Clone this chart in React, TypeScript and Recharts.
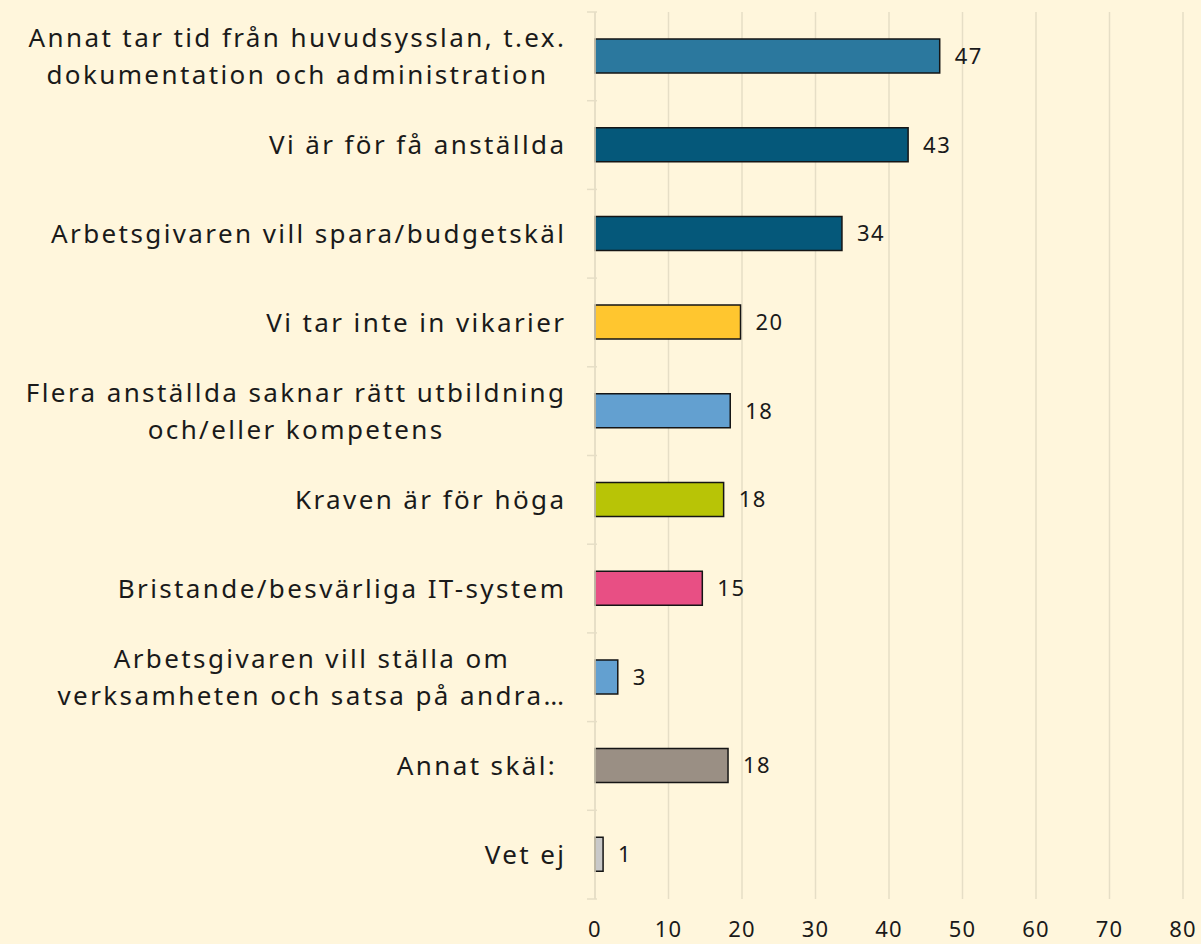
import { Bar, BarChart, CartesianGrid, Cell, LabelList, XAxis, YAxis } from "recharts";

const categories = [
  "Annat tar tid från huvudsysslan, t.ex.\ndokumentation och administration",
  "Vi är för få anställda",
  "Arbetsgivaren vill spara/budgetskäl",
  "Vi tar inte in vikarier",
  "Flera anställda saknar rätt utbildning\noch/eller kompetens",
  "Kraven är för höga",
  "Bristande/besvärliga IT-system",
  "Arbetsgivaren vill ställa om\nverksamheten och satsa på andra…",
  "Annat skäl: ",
  "Vet ej",
];

const values = [46.9, 42.6, 33.6, 19.8, 18.4, 17.5, 14.6, 3.1, 18.1, 1.1];

const colors = [
  "#2B789E",
  "#05587A",
  "#05587A",
  "#FFC62F",
  "#63A0D0",
  "#B8C406",
  "#E84F84",
  "#63A0D0",
  "#9A8F84",
  "#C9C9C9",
];

const xTicks = [0, 10, 20, 30, 40, 50, 60, 70, 80];

const data = categories.map((name, i) => ({ name, value: values[i] }));

const FONT = "'Noto Sans', sans-serif";
const TEXT = "#1A1A1A";
const GRID = "#E6DEC6";
const BG = "#FFF6DC";

const TOP = 12;
const BOTTOM = 45;
const HEIGHT = 944;
const BAND = (HEIGHT - TOP - BOTTOM) / categories.length;

const LABEL_SIZE = 26;
const LABEL_LS = 2.4;

let canvasCtx: CanvasRenderingContext2D | null = null;
function measure(text: string) {
  if (!canvasCtx) canvasCtx = document.createElement("canvas").getContext("2d");
  const base = canvasCtx
    ? ((canvasCtx.font = `${LABEL_SIZE}px 'Noto Sans'`), canvasCtx.measureText(text).width)
    : text.length * LABEL_SIZE * 0.55;
  return base + text.length * LABEL_LS;
}

function CategoryTick(props: any) {
  const { x, y, payload, index } = props;
  const lines: string[] = String(payload.value).split("\n");
  const right = x - 23 + LABEL_LS;
  const lineH = 37;
  const widest = Math.max(...lines.map((l) => measure(l)));
  const cx = right - widest / 2;
  const startY = y - ((lines.length - 1) * lineH) / 2;
  return (
    <g>
      <line x1={x} x2={x + 10} y1={y - BAND / 2} y2={y - BAND / 2} stroke={GRID} strokeWidth={1.5} />
      {index === categories.length - 1 && (
        <line x1={x} x2={x + 10} y1={y + BAND / 2} y2={y + BAND / 2} stroke={GRID} strokeWidth={1.5} />
      )}
      {lines.map((l, i) => (
        <text
          key={i}
          x={lines.length > 1 ? cx : right}
          y={startY + i * lineH}
          dy="0.36em"
          textAnchor={lines.length > 1 ? "middle" : "end"}
          fontSize={LABEL_SIZE}
          fontFamily={FONT}
          letterSpacing={LABEL_LS}
          fill={TEXT}
          style={{ whiteSpace: "pre" }}
        >
          {l}
        </text>
      ))}
    </g>
  );
}

export default function App() {
  return (
    <div style={{ width: 1201, height: HEIGHT, background: BG, position: "absolute", left: 0, top: 0 }}>
      <style>{`body{margin:0;background:${BG}}`}</style>
      <BarChart
        layout="vertical"
        width={1201}
        height={HEIGHT}
        data={data}
        margin={{ top: TOP, right: 18, bottom: 0, left: 0 }}
        barSize={34}
      >
        <CartesianGrid horizontal={false} vertical stroke={GRID} strokeWidth={1.5} />
        <XAxis
          type="number"
          domain={[0, 80]}
          ticks={xTicks}
          interval={0}
          axisLine={false}
          tickLine={false}
          height={BOTTOM}
          tick={{ fill: TEXT, fontSize: 22, fontFamily: FONT, letterSpacing: 1.2, dy: 14 }}
        />
        <YAxis
          type="category"
          dataKey="name"
          width={595}
          interval={0}
          axisLine={{ stroke: GRID, strokeWidth: 1.5 }}
          tickLine={false}
          tick={<CategoryTick />}
        />
        <Bar dataKey="value" stroke="#151515" strokeWidth={1.5} isAnimationActive={false}>
          {data.map((d, i) => (
            <Cell key={d.name} fill={colors[i]} />
          ))}
          <LabelList
            dataKey="value"
            position="right"
            offset={15}
            formatter={(v: any) => Math.round(Number(v))}
            style={{ fill: TEXT, fontSize: 22, fontFamily: FONT, letterSpacing: 1.5 }}
          />
        </Bar>
      </BarChart>
    </div>
  );
}
